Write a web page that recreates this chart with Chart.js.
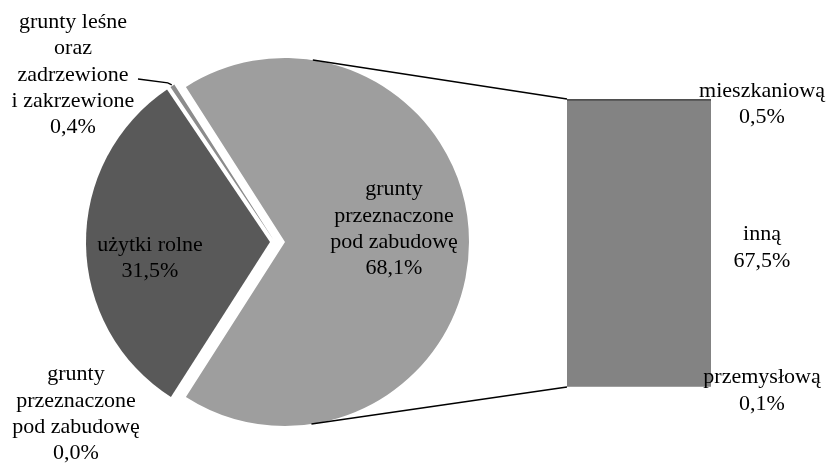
<!DOCTYPE html>
<html>
<head>
<meta charset="utf-8">
<script src="https://cdn.jsdelivr.net/npm/chart.js@4"></script>
<style>
  html, body { margin: 0; padding: 0; background: #fff; }
  #wrap { position: relative; width: 832px; height: 463px; }
  #wrap canvas { position: absolute; left: 0; top: 0; }
</style>
</head>
<body>
<div id="wrap">
  <canvas id="pieChart" width="832" height="463"></canvas>
  <canvas id="barChart" width="832" height="463"></canvas>
</div>
<script>
// Struktura gruntów (koło) – kolejność zgodnie z ruchem wskazówek zegara
const pieNames = [
    ['grunty', 'przeznaczone', 'pod zabudowę'],
    ['grunty', 'przeznaczone', 'pod zabudowę'],
    ['użytki rolne'],
    ['grunty leśne', 'oraz', 'zadrzewione', 'i zakrzewione']
];
const pieValues = [68.1, 0.0, 31.5, 0.4];

// Rozbicie gruntów pod zabudowę (słupek), od dołu
const barNames = ['przemysłową', 'inną', 'mieszkaniową'];
const barValues = [0.1, 67.5, 0.5];

// Wygląd
const pieColors = ['#9e9e9e', '#9e9e9e', '#595959', '#8c8c8c'];
const pieShift = [10, 0, 5, 3];
const barColors = ['#a8a8a8', '#838383', '#4f4f4f'];
const FONT = '22px "Liberation Serif", "Times New Roman", serif';
const LINE_H = 26.3;

// położenie środków bloków etykiet koła
const pieLabelPos = [
    { x: 394, y: 229 },
    { x: 76, y: 414 },
    { x: 150, y: 258 },
    { x: 73, y: 75 }
];

const fmt = v => v.toFixed(1).replace('.', ',') + '%';

function drawBlock(ctx, lines, x, y) {
    ctx.save();
    ctx.font = FONT;
    ctx.fillStyle = '#000';
    ctx.textAlign = 'center';
    ctx.textBaseline = 'middle';
    const top = y - (lines.length - 1) * LINE_H / 2;
    lines.forEach((t, i) => ctx.fillText(t, x, top + i * LINE_H));
    ctx.restore();
}

// Wysunięcie wycinka jak w Excelu: przesunięcie bez powiększania promienia
const arcDraw = Chart.ArcElement.prototype.draw;
Chart.ArcElement.prototype.draw = function (ctx) {
    const shift = this.options.offset || 0;
    if (!shift) return arcDraw.call(this, ctx);
    const mid = (this.startAngle + this.endAngle) / 2;
    const opts = this.options;
    this.options = Object.assign({}, opts, { offset: 0 });
    ctx.save();
    ctx.translate(Math.cos(mid) * shift, Math.sin(mid) * shift);
    arcDraw.call(this, ctx);
    ctx.restore();
    this.options = opts;
};

function arcCenter(arc, shift) {
    const mid = (arc.startAngle + arc.endAngle) / 2;
    return { x: arc.x + Math.cos(mid) * shift, y: arc.y + Math.sin(mid) * shift, mid: mid };
}

const pieLabelsPlugin = {
    id: 'pieLabels',
    afterDatasetsDraw(chart) {
        const ctx = chart.ctx;
        const arcs = chart.getDatasetMeta(0).data;

        // linia odniesienia do wąskiego wycinka gruntów leśnych
        const les = arcs[3];
        const c = arcCenter(les, pieShift[3]);
        const tipX = c.x + Math.cos(c.mid) * (les.outerRadius + 1);
        const tipY = c.y + Math.sin(c.mid) * (les.outerRadius + 1);
        ctx.save();
        ctx.strokeStyle = '#000';
        ctx.lineWidth = 1.3;
        ctx.beginPath();
        ctx.moveTo(138, 79);
        ctx.lineTo(tipX - 4, tipY - 2);
        ctx.lineTo(tipX, tipY);
        ctx.stroke();
        ctx.restore();

        pieNames.forEach((lines, i) => {
            const p = pieLabelPos[i];
            drawBlock(ctx, lines.concat(fmt(pieValues[i])), p.x, p.y);
        });
    }
};

const pieChart = new Chart(document.getElementById('pieChart'), {
    type: 'pie',
    data: {
        labels: pieNames.map(n => n.join(' ')),
        datasets: [{
            data: pieValues,
            backgroundColor: pieColors,
            borderWidth: 0,
            offset: pieShift
        }]
    },
    options: {
        responsive: false,
        animation: false,
        events: [],
        // wycinek gruntów pod zabudowę zwrócony w stronę słupka
        rotation: 90 - pieValues[0] / 100 * 180,
        radius: 184,
        layout: { padding: { left: 0, right: 282, top: 21, bottom: 0 } },
        plugins: {
            legend: { display: false },
            tooltip: { enabled: false }
        }
    },
    plugins: [pieLabelsPlugin]
});

// linie łączące wysunięty wycinek ze słupkiem (styczne do koła)
const connectorPlugin = {
    id: 'connectors',
    afterDatasetsDraw(chart) {
        const ctx = chart.ctx;
        const arc = pieChart.getDatasetMeta(0).data[0];
        const c = arcCenter(arc, pieShift[0]);
        const r = arc.outerRadius;
        const topBar = chart.getDatasetMeta(barValues.length - 1).data[0];
        const bottomBar = chart.getDatasetMeta(0).data[0];
        const left = topBar.x - topBar.width / 2;
        const corners = [[left, topBar.y, -1], [left, bottomBar.base, 1]];
        ctx.save();
        ctx.strokeStyle = '#000';
        ctx.lineWidth = 1.5;
        corners.forEach(([px, py, side]) => {
            const d = Math.hypot(px - c.x, py - c.y);
            const a = Math.atan2(py - c.y, px - c.x) + side * Math.acos(r / d);
            ctx.beginPath();
            ctx.moveTo(c.x + Math.cos(a) * r, c.y + Math.sin(a) * r);
            ctx.lineTo(px, py);
            ctx.stroke();
        });
        ctx.restore();

        // etykiety segmentów słupka
        barNames.forEach((name, i) => {
            const el = chart.getDatasetMeta(i).data[0];
            const x = el.x + el.width / 2 + 51;
            const y = (el.y + el.base) / 2 + 4;
            drawBlock(ctx, [name, fmt(barValues[i])], x, y);
        });
    }
};

const barTotal = barValues.reduce((s, v) => s + v, 0);

new Chart(document.getElementById('barChart'), {
    type: 'bar',
    data: {
        labels: [''],
        datasets: barNames.map((name, i) => ({
            label: name,
            data: [barValues[i]],
            backgroundColor: barColors[i],
            borderWidth: 0,
            barPercentage: 1,
            categoryPercentage: 1
        }))
    },
    options: {
        responsive: false,
        animation: false,
        events: [],
        layout: { padding: { left: 567, right: 121, top: 99, bottom: 76 } },
        scales: {
            x: { stacked: true, display: false },
            y: { stacked: true, display: false, min: 0, max: barTotal }
        },
        plugins: {
            legend: { display: false },
            tooltip: { enabled: false }
        }
    },
    plugins: [connectorPlugin]
});
</script>
</body>
</html>
